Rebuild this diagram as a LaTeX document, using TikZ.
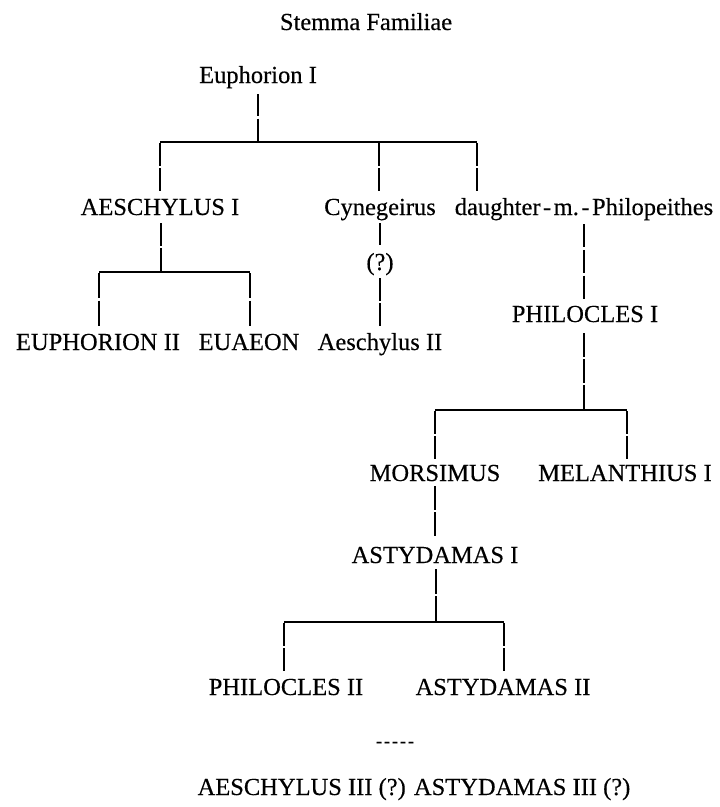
\documentclass[tikz,border=0pt]{standalone}
\usepackage{fontspec}
\setmainfont{Liberation Serif}[FakeBold=0.3]
\usetikzlibrary{calc}
\tikzset{
  lbl/.style={font=\fontsize{24.5}{28}\selectfont, inner sep=0pt, anchor=base, text=black},
  ttl/.style={font=\fontsize{24.5}{28}\selectfont, inner sep=0pt, anchor=base, text=black},
  dashrow/.style={font=\fontsize{18.5}{22}\selectfont, inner sep=0pt, anchor=base, text=black},
  link/.style={draw=black, line width=1.3pt, shorten <=1.2pt, shorten >=1.2pt},
  hline/.style={draw=black, line width=1.3pt}
}
\newcommand{\segbar}[3]{%
  \foreach \k in {1,...,#3}{%
    \pgfmathsetmacro{\ta}{(\k-1)/#3}%
    \pgfmathsetmacro{\tb}{\k/#3}%
    \draw[link] ($(#1)!\ta!(#2)$) -- ($(#1)!\tb!(#2)$);
  }}
\begin{document}
\begin{tikzpicture}[x=1pt,y=-1pt]
\useasboundingbox (0,0) rectangle (720,807);
% titles and names
\node[ttl] (title) at (366,30) {Stemma Familiae};
\node[lbl] (eu1) at (258,83) {Euphorion I};
\node[lbl] (ae1) at (160,215) {AESCHYLUS I};
\node[lbl] (cyn) at (380,215) {Cynegeirus};
\node[lbl] (dau) at (584,215) {daughter\kern2.5pt-\kern2.5pt m.\kern2.5pt-\kern2.5pt Philopeithes};
\node[lbl] (q1) at (380,270) {(?)};
\node[lbl] (eu2) at (98,350) {EUPHORION II};
\node[lbl] (eua) at (249,350) {EUAEON};
\node[lbl] (ae2) at (380,350) {Aeschylus II};
\node[lbl] (ph1) at (585,322) {PHILOCLES I};
\node[lbl] (mor) at (435,481) {MORSIMUS};
\node[lbl] (mel) at (625,481) {MELANTHIUS I};
\node[lbl] (as1) at (435,563) {ASTYDAMAS I};
\node[lbl] (ph2) at (286,695) {PHILOCLES II};
\node[lbl] (as2) at (503,695) {ASTYDAMAS II};
\node[dashrow] (dots) at (395,747) {-\kern1.8pt-\kern1.8pt-\kern1.8pt-\kern1.8pt-};
\node[lbl] (last) at (414,795) {AESCHYLUS III (?) ASTYDAMAS III (?)};
% connector coordinates
\coordinate (eu1b) at (258,93);
\coordinate (j1) at (258,142);
\coordinate (j1l) at (160,142);
\coordinate (j1m) at (379,142);
\coordinate (j1r) at (477,142);
\coordinate (ae1t) at (160,192);
\coordinate (cynt) at (379,192);
\coordinate (daut) at (477,192);
\coordinate (ae1b) at (161,222);
\coordinate (j2) at (161,272);
\coordinate (j2l) at (99,272);
\coordinate (j2r) at (250,272);
\coordinate (eu2t) at (99,327);
\coordinate (euat) at (250,327);
\coordinate (cynb) at (380,222);
\coordinate (q1t) at (380,246);
\coordinate (q1b) at (380,277);
\coordinate (ae2t) at (380,327);
\coordinate (daub) at (584,223);
\coordinate (ph1t) at (584,300);
\coordinate (ph1b) at (584,332);
\coordinate (j3) at (584,410);
\coordinate (j3l) at (435,410);
\coordinate (j3r) at (627,410);
\coordinate (mort) at (435,460);
\coordinate (melt) at (627,460);
\coordinate (morb) at (435,485);
\coordinate (as1t) at (435,537);
\coordinate (as1b) at (436,568);
\coordinate (j4) at (436,622);
\coordinate (j4l) at (284,622);
\coordinate (j4r) at (504,622);
\coordinate (ph2t) at (284,672);
\coordinate (as2t) at (504,672);
% connectors
\segbar{eu1b}{j1}{2}
\draw[hline] (j1l) -- (j1r);
\segbar{j1l}{ae1t}{2}
\segbar{j1m}{cynt}{2}
\segbar{j1r}{daut}{2}
\segbar{ae1b}{j2}{2}
\draw[hline] (j2l) -- (j2r);
\segbar{j2l}{eu2t}{2}
\segbar{j2r}{euat}{2}
\segbar{cynb}{q1t}{1}
\segbar{q1b}{ae2t}{2}
\segbar{daub}{ph1t}{3}
\segbar{ph1b}{j3}{3}
\draw[hline] (j3l) -- (j3r);
\segbar{j3l}{mort}{2}
\segbar{j3r}{melt}{2}
\segbar{morb}{as1t}{2}
\segbar{as1b}{j4}{2}
\draw[hline] (j4l) -- (j4r);
\segbar{j4l}{ph2t}{2}
\segbar{j4r}{as2t}{2}
\end{tikzpicture}
\end{document}
